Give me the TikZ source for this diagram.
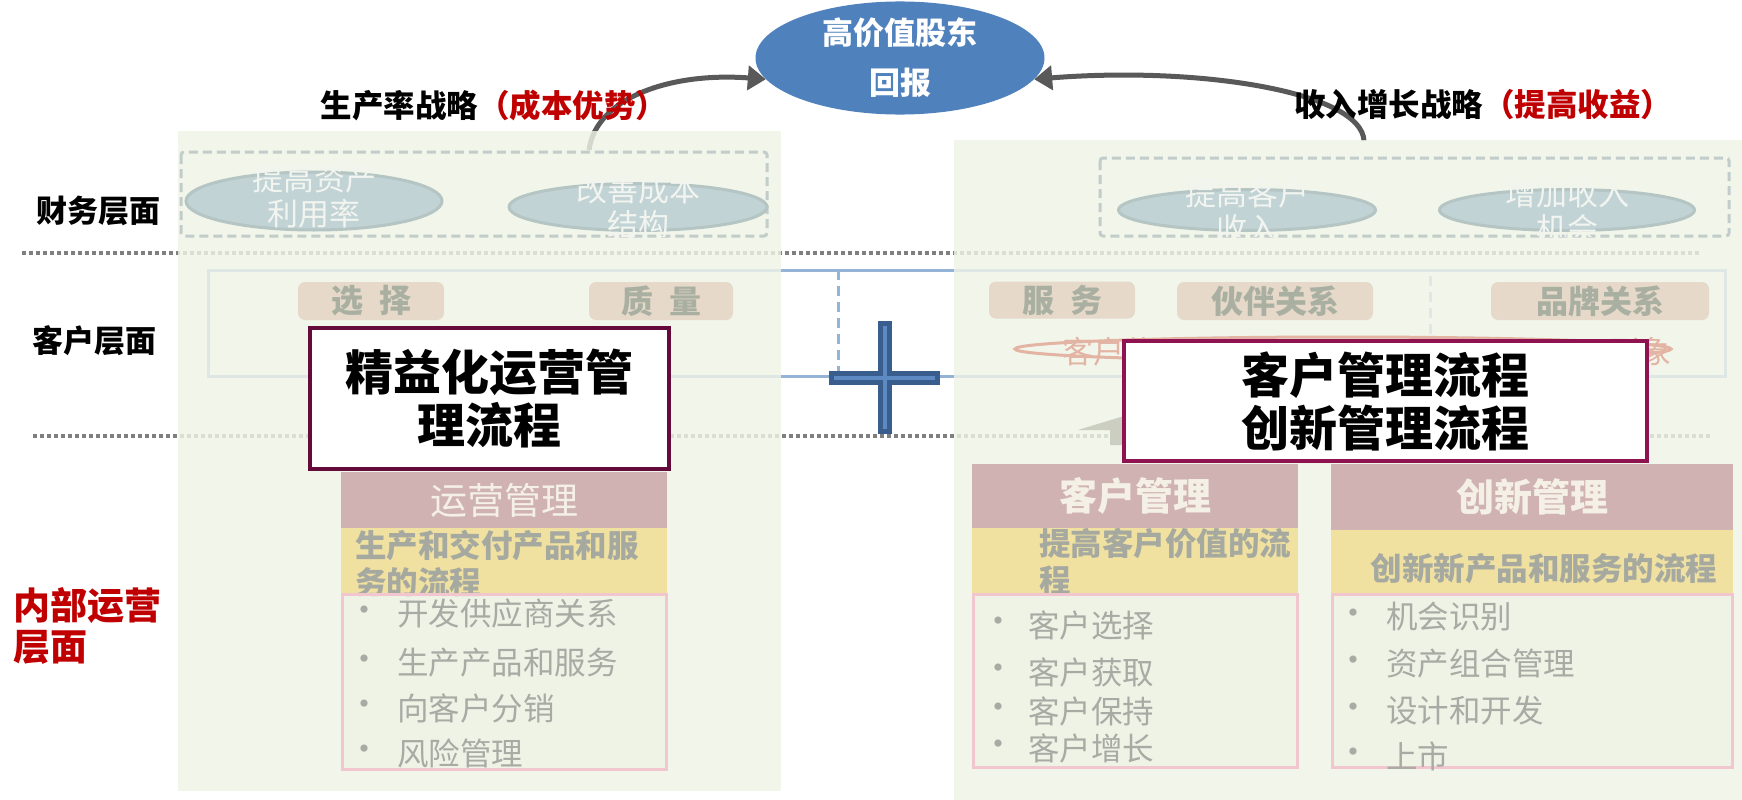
\documentclass[tikz,border=0pt]{standalone}
\usepackage{fontspec}
\setmainfont{Noto Sans CJK SC}
\newfontfamily\heavy{Noto Sans CJK SC Black}
\usetikzlibrary{arrows.meta,shapes.geometric}
\definecolor{dotgray}{HTML}{7F7F7F}
\definecolor{panelc}{HTML}{EFF3E6}
\definecolor{custline}{HTML}{95B3D7}
\definecolor{dashc}{HTML}{C2CCCA}
\definecolor{ellf}{HTML}{C1D3D5}
\definecolor{ellb}{HTML}{B5C5C4}
\definecolor{elltxt}{HTML}{F2F4F0}
\definecolor{pillc}{HTML}{E6D9C9}
\definecolor{pillt}{HTML}{A9B0A2}
\definecolor{salmon}{HTML}{E3B3A4}
\definecolor{headc}{HTML}{D0B2B3}
\definecolor{headt}{HTML}{F4F0E6}
\definecolor{yelc}{HTML}{F0E1A0}
\definecolor{yelt}{HTML}{A6A9A0}
\definecolor{pinkb}{HTML}{F2C6CE}
\definecolor{bult}{HTML}{A8AAA4}
\definecolor{maroonL}{HTML}{650B3B}
\definecolor{maroonR}{HTML}{8E1350}
\definecolor{goalc}{HTML}{4F81BD}
\definecolor{plusd}{HTML}{395E8D}
\definecolor{plusl}{HTML}{5E8AC4}
\definecolor{arrc}{HTML}{595959}
\definecolor{redt}{HTML}{C00000}
\definecolor{grayarr}{HTML}{CBCEC1}
\begin{document}
\begin{tikzpicture}[x=1pt,y=-1pt,
  dotline/.style={line width=4pt,draw=dotgray,dash pattern=on 4pt off 3pt},
  panel/.style={fill=panelc,fill opacity=0.82,draw=none},
  findash/.style={draw=dashc,line width=3pt,dash pattern=on 9pt off 5pt},
  finell/.style={ellipse,draw=ellb,line width=3pt,fill=ellf,inner sep=0pt},
  elltext/.style={text=elltxt,align=center,font=\fontsize{31}{35}\selectfont,inner sep=0pt},
  pill/.style={rounded corners=7pt,fill=pillc,inner sep=0pt,text=pillt,font=\heavy\fontsize{32}{32}\selectfont},
  head/.style={fill=headc,draw=none,inner sep=0pt,text=headt,font=\fontsize{37}{37}\selectfont},
  headb/.style={head,font=\bfseries\fontsize{38}{38}\selectfont},
  yel/.style={fill=yelc,draw=none,inner sep=0pt},
  yeltext/.style={text=yelt,font=\bfseries\fontsize{31.5}{37}\selectfont,align=left,inner sep=0pt},
  pinkbox/.style={draw=pinkb,line width=3pt,fill=panelc,fill opacity=0.8,draw opacity=1},
  bul/.style={text=bult,font=\fontsize{31.5}{31.5}\selectfont,inner sep=0pt,anchor=west},
  bdot/.style={text=bult,font=\fontsize{34}{34}\selectfont,inner sep=0pt},
  bigbox/.style={fill=white,line width=4pt,inner sep=0pt,align=center,font=\heavy\fontsize{48}{53}\selectfont},
  layer/.style={font=\heavy\fontsize{31}{31}\selectfont,inner sep=0pt},
  strat/.style={-{Triangle[length=18pt,width=24pt]},line width=5pt,draw=arrc}
]
\useasboundingbox[fill=white] (0,0) rectangle (1742,800);

% base layer (faded later by panels)
\draw[dotline] (22,253) -- (1700,253);
\draw[dotline] (33,436) -- (1712,436);
\draw[draw=custline,line width=3pt] (208,270) rectangle (1725,376);
\draw[draw=custline,line width=3pt,dash pattern=on 10pt off 6pt] (838,270) -- (838,376);
\draw[draw=custline,line width=3pt,dash pattern=on 10pt off 6pt] (1430,276) -- (1430,372);

% goal and strategy arrows
\node[ellipse,fill=goalc,minimum width=289pt,minimum height=105pt,inner sep=0pt,text=white,align=center,font=\bfseries\fontsize{31}{50}\selectfont] (goal) at (900,58) {高价值股东\\回报};
\coordinate (ls) at (589,150);
\coordinate (rs) at (1364,141);
\draw[strat] (ls) .. controls (596,98) and (670,72) .. (goal.189);
\draw[strat] (rs) .. controls (1362,92) and (1200,66) .. (goal.351);

% panels
\fill[panel] (178,131) rectangle (781,791);
\fill[panel] (954,140) rectangle (1742,800);

% finance layer
\draw[findash,rounded corners=3pt] (181,152) rectangle (767,236);
\draw[findash,rounded corners=3pt] (1100,158) rectangle (1729,236);
\node[finell,minimum width=256pt,minimum height=58pt] (f1) at (314,201) {};
\node[finell,minimum width=258pt,minimum height=47pt] (f2) at (638,207) {};
\node[finell,minimum width=257pt,minimum height=41pt] (f3) at (1247,210) {};
\node[finell,minimum width=255pt,minimum height=41pt] (f4) at (1567,210) {};
\begin{scope}
\clip (181,152) rectangle (767,236);
\node[elltext] (t1) at (314,196) {提高资产\\利用率};
\node[elltext] (t2) at (638,207) {改善成本\\结构};
\end{scope}
\begin{scope}
\clip (1100,158) rectangle (1729,236);
\node[elltext] (t3) at (1247,211) {提高客户\\收入};
\node[elltext] (t4) at (1567,211) {增加收入\\机会};
\end{scope}

% customer layer
\node[pill,minimum width=146pt,minimum height=38pt] (p1) at (371,301) {选\hspace{16pt}择};
\node[pill,minimum width=144pt,minimum height=38pt] (p2) at (661,301) {质\hspace{16pt}量};
\node[pill,minimum width=146pt,minimum height=37pt] (p3) at (1062,300) {服\hspace{16pt}务};
\node[pill,minimum width=196pt,minimum height=38pt] (p4) at (1275,301) {伙伴关系};
\node[pill,minimum width=218pt,minimum height=38pt] (p5) at (1600,301) {品牌关系};
\draw[draw=salmon,line width=3pt] (1343,349) ellipse (328pt and 12pt);
\node[text=salmon,font=\fontsize{31}{31}\selectfont,inner sep=0pt,anchor=west] (cv1) at (1062,352) {客户价};
\node[text=salmon,font=\fontsize{31}{31}\selectfont,inner sep=0pt,anchor=east] (cv2) at (1672,352) {形象};

% faint block arrow
\fill[grayarr] (1078,430) -- (1124,416) -- (1124,445) -- (1110,445) -- (1110,430) -- cycle;

% operations: left column
\node[head,minimum width=326pt,minimum height=56pt] (h1) at (504,500) {运营管理};
\fill[yel] (341,528) rectangle (667,594);
\node[yeltext,anchor=north west] (y1) at (355,530) {生产和交付产品和服\\务的流程};
\draw[pinkbox] (342,594) rectangle (666,769);
\node[bdot] (b11) at (364,614) {•}; \node[bul] (l11) at (397,614) {开发供应商关系};
\node[bdot] (b12) at (364,663) {•}; \node[bul] (l12) at (397,663) {生产产品和服务};
\node[bdot] (b13) at (364,708) {•}; \node[bul] (l13) at (397,708) {向客户分销};
\node[bdot] (b14) at (364,753) {•}; \node[bul] (l14) at (397,753) {风险管理};

% operations: customer management
\node[headb,minimum width=326pt,minimum height=65pt] (h2) at (1135,496) {客户管理};
\fill[yel] (972,528) rectangle (1298,594);
\node[yeltext,anchor=north west] (y2) at (1039,528) {提高客户价值的流\\程};
\draw[pinkbox] (973,594) rectangle (1297,767);
\node[bdot] (b21) at (998,625) {•}; \node[bul] (l21) at (1028,625) {客户选择};
\node[bdot] (b22) at (998,672) {•}; \node[bul] (l22) at (1028,672) {客户获取};
\node[bdot] (b23) at (998,711) {•}; \node[bul] (l23) at (1028,711) {客户保持};
\node[bdot] (b24) at (998,748) {•}; \node[bul] (l24) at (1028,748) {客户增长};

% operations: innovation management
\node[headb,minimum width=402pt,minimum height=67pt] (h3) at (1532,497) {创新管理};
\fill[yel] (1331,530) rectangle (1733,594);
\node[yeltext] (y3) at (1544,569) {创新新产品和服务的流程};
\draw[pinkbox] (1332,594) rectangle (1732,767);
\node[bdot] (b31) at (1353,617) {•}; \node[bul] (l31) at (1386,617) {机会识别};
\node[bdot] (b32) at (1353,664) {•}; \node[bul] (l32) at (1386,664) {资产组合管理};
\node[bdot] (b33) at (1353,711) {•}; \node[bul] (l33) at (1386,711) {设计和开发};
\node[bdot] (b34) at (1353,756) {•}; \node[bul] (l34) at (1386,756) {上市};

% headline boxes
\node[bigbox,draw=maroonL,minimum width=359pt,minimum height=141pt] (lean) at (489.5,398.5) {精益化运营管\\理流程};
\node[bigbox,draw=maroonR,minimum width=523pt,minimum height=120pt] (cim) at (1385.5,401) {客户管理流程\\创新管理流程};

% plus sign
\draw[plusd,line width=14pt] (885,321) -- (885,434);
\draw[plusd,line width=14pt] (829,378) -- (940,378);
\draw[plusl,line width=4pt] (885,326) -- (885,429);
\draw[plusl,line width=4pt] (834,378) -- (935,378);

% labels
\node[font=\heavy\fontsize{31.5}{31.5}\selectfont,inner sep=0pt] (sl) at (494,105) {生产率战略\textcolor{redt}{（成本优势）}};
\node[font=\heavy\fontsize{31.5}{31.5}\selectfont,inner sep=0pt] (sr) at (1483,105) {收入增长战略\textcolor{redt}{（提高收益）}};
\node[layer] (lf) at (98,211) {财务层面};
\node[layer] (lc) at (94,341) {客户层面};
\node[layer,text=redt,align=left,anchor=west,font=\heavy\fontsize{37}{41}\selectfont] (li) at (13,626) {内部运营\\层面};
\end{tikzpicture}
\end{document}
